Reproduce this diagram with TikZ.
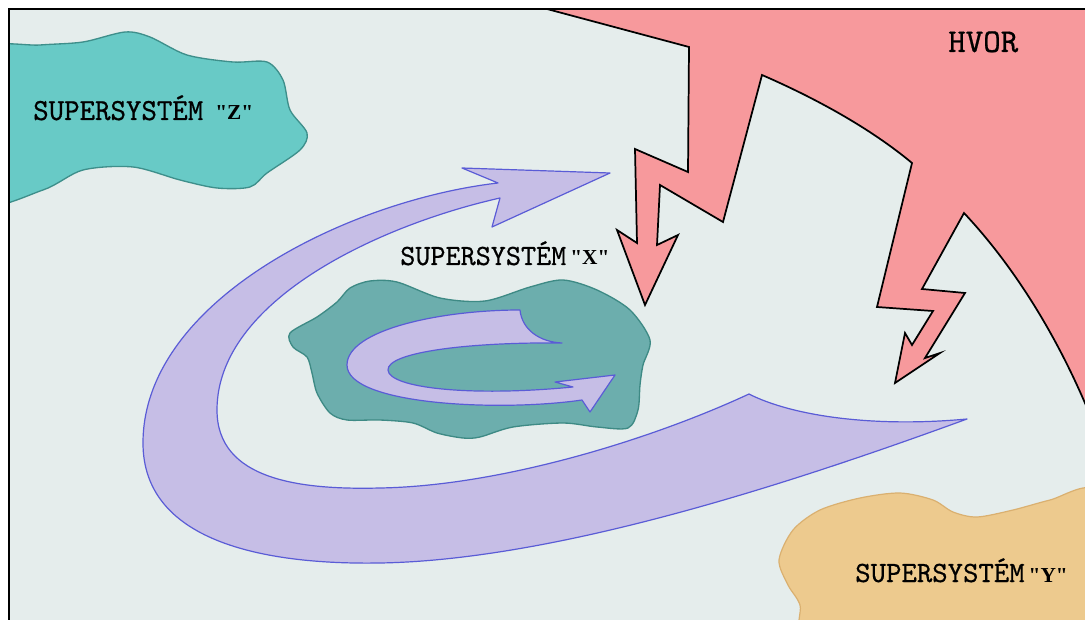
\documentclass[tikz,border=0pt]{standalone}
\usepackage{fontspec}
\usepackage{graphicx}
\newfontfamily\lblfont[FakeBold=0.6]{lmmono10-regular.otf}
\newfontfamily\qfam{Liberation Serif}
\definecolor{bgc}{RGB}{229,237,236}
\definecolor{zfill}{RGB}{104,202,198}
\definecolor{zline}{RGB}{62,143,139}
\definecolor{xfill}{RGB}{108,174,173}
\definecolor{xline}{RGB}{62,138,133}
\definecolor{lav}{RGB}{198,190,230}
\definecolor{lavline}{RGB}{90,92,214}
\definecolor{redf}{RGB}{247,153,156}
\definecolor{yfill}{RGB}{237,202,142}
\definecolor{yline}{RGB}{218,176,112}
\tikzset{
  blobz/.style={fill=zfill,draw=zline,line width=1pt},
  blobx/.style={fill=xfill,draw=xline,line width=1pt},
  bloby/.style={fill=yfill,draw=yline,line width=0.9pt},
  lavarrow/.style={fill=lav,draw=lavline,line width=0.9pt,line join=round},
  hvorfill/.style={fill=redf},
  hvorline/.style={draw=black,line width=1.3pt,line join=miter},
  lbl/.style={inner sep=0,anchor=base west,font=\lblfont\fontsize{22}{24}\selectfont},
}
\newcommand{\qlet}[1]{{\qfam\bfseries\fontsize{16}{18}\selectfont "#1"}}
\begin{document}
\begin{tikzpicture}[x=0.75pt,y=-0.75pt]
\useasboundingbox (0,0) rectangle (1085,620);
\fill[white] (0,0) rectangle (1085,620);
\begin{scope}
\clip (9,9) rectangle (1085,620);
\fill[bgc] (9,9) rectangle (1085,620);
% Z blob
\path[blobz] plot[smooth cycle] coordinates {(-20,50) (40,45) (83,42) (125,32) (150,37) (187,55) (233,62) (267,62) (283,80) (290,110) (307,133) (300,150) (267,173) (250,187) (217,188) (180,180) (133,167) (83,170) (43,190) (-20,204) (-40,125)};
% Y blob
\path[bloby] plot[smooth cycle] coordinates {(779,560) (793,530) (820,510) (860,498) (900,493) (933,500) (953,512) (977,517) (1013,510) (1050,500) (1095,490) (1120,560) (1100,650) (900,660) (806,640) (800,605) (788,585)};
% big arrow
\path[lavarrow] (498,183) -- (462,168) -- (610,173) -- (492,227) -- (500,198)
  .. controls (380,225) and (217,300) .. (217,410)
  .. controls (217,480) and (300,490) .. (380,488)
  .. controls (500,486) and (650,440) .. (749,394)
  .. controls (790,415) and (870,428) .. (967,419)
  .. controls (800,480) and (560,560) .. (380,563)
  .. controls (260,565) and (143,540) .. (143,443)
  .. controls (143,300) and (350,200) .. (498,183)
  -- cycle;
% X blob
\path[blobx] plot[smooth cycle] coordinates {(290,333) (317,317) (337,302) (350,288) (370,281) (397,282) (440,298) (485,301) (530,287) (563,280) (597,290) (630,310) (650,340) (643,365) (640,385) (638,410) (628,428) (597,427) (563,423) (513,427) (480,437) (463,438) (437,433) (413,423) (380,420) (347,420) (330,413) (317,393) (312,373) (307,357) (293,347)};
% small arrow
\path[lavarrow] (520,310)
  .. controls (522,330) and (540,342) .. (562,343)
  .. controls (470,342) and (387,352) .. (388,370)
  .. controls (389,388) and (470,397) .. (573,387)
  -- (555,382) -- (615,375) -- (590,412) -- (582,400)
  .. controls (500,412) and (347,405) .. (347,365)
  .. controls (347,330) and (440,310) .. (520,310)
  -- cycle;
% HVOR region
\path[hvorfill] (547,9) -- (689,47) -- (688,172) -- (635,149) -- (637,243) -- (617,230) -- (645,305) -- (678,235) -- (657,245) -- (660,185) -- (723,222) -- (762,75)
  .. controls (815,98) and (870,128) .. (912,163)
  -- (877,307) -- (933,311) -- (912,345) -- (905,333) -- (895,383) -- (940,353) -- (925,358) -- (965,293) -- (922,289) -- (964,213)
  .. controls (1010,262) and (1055,330) .. (1090,415)
  -- (1095,415) -- (1095,0) -- (547,0) -- cycle;
\path[hvorline] (547,9) -- (689,47) -- (688,172) -- (635,149) -- (637,243) -- (617,230) -- (645,305) -- (678,235) -- (657,245) -- (660,185) -- (723,222) -- (762,75)
  .. controls (815,98) and (870,128) .. (912,163)
  -- (877,307) -- (933,311) -- (912,345) -- (905,333) -- (895,383) -- (940,353) -- (925,358) -- (965,293) -- (922,289) -- (964,213)
  .. controls (1010,262) and (1055,330) .. (1090,415);
\end{scope}
% frame
\draw[black,line width=1.2pt] (9,620) -- (9,9) -- (1085,9);
% labels
\node[lbl,font=\lblfont\fontsize{23}{25}\selectfont] (lz) at (33,120) {\scalebox{0.96}[1]{SUPERSYSTÉM}\hspace{9pt}\qlet{Z}};
\node[lbl] (lx) at (400,265) {\scalebox{0.98}[1]{SUPERSYSTÉM}\hspace{3pt}\qlet{X}};
\node[lbl] (ly) at (855,582) {SUPERSYSTÉM\hspace{3pt}\qlet{Y}};
\node[lbl,font=\lblfont\fontsize{25}{27}\selectfont] (hv) at (948,52) {HVOR};
\end{tikzpicture}
\end{document}
